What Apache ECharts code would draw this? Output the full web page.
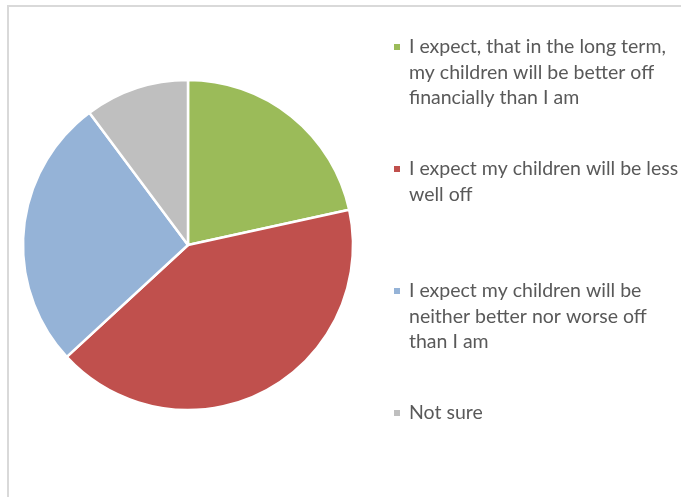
<!DOCTYPE html>
<html>
<head>
<meta charset="utf-8">
<script src="https://cdn.jsdelivr.net/npm/echarts@6/dist/echarts.min.js"></script>
<style>
  html, body { margin: 0; padding: 0; background: #ffffff; }
  #chart { width: 681px; height: 497px; }
</style>
</head>
<body>
<div id="chart"></div>
<script>
// Survey answers, each legend entry split into its display lines
const legendLines = [
  ['I expect, that in the long term,', 'my children will be better off', 'financially than I am'],
  ['I expect my children will be less', 'well off'],
  ['I expect my children will be', 'neither better nor worse off', 'than I am'],
  ['Not sure']
];
const categories = legendLines.map(l => l.join(' '));
const shares = [21.6, 41.6, 26.7, 10.2];
const colors = ['#9bbb59', '#c0504d', '#95b3d7', '#bfbfbf'];

const LINE_H = 25.5;
const SLOT_LINES = 3;
const FONT = 19.5;

// rich styles: one coloured square per entry plus the text rows
const rich = {
  t1: { color: '#595959', fontFamily: 'Lato', fontSize: FONT, lineHeight: LINE_H, padding: [0, 0, 0, 9] },
  t: { color: '#595959', fontFamily: 'Lato', fontSize: FONT, lineHeight: LINE_H, padding: [0, 0, 0, 15] }
};
colors.forEach((c, i) => {
  rich['m' + i] = { width: 6, height: 6, backgroundColor: c, lineHeight: LINE_H };
});

const chart = echarts.init(document.getElementById('chart'), null, { renderer: 'canvas' });
chart.setOption({
  animation: false,
  backgroundColor: '#ffffff',
  color: colors,
  graphic: [{
    type: 'rect',
    silent: true,
    shape: { x: 8, y: 6, width: 720, height: 560 },
    style: { fill: 'none', stroke: '#d9d9d9', lineWidth: 2 }
  }],
  legend: {
    orient: 'vertical',
    left: 388,
    top: 37,
    padding: 0,
    itemWidth: 0,
    itemHeight: 0,
    itemGap: 51,
    selectedMode: false,
    data: categories,
    textStyle: { color: '#595959', fontFamily: 'Lato', fontSize: FONT, rich: rich },
    formatter: function (name) {
      const i = categories.indexOf(name);
      const lines = legendLines[i].slice();
      while (lines.length < SLOT_LINES) lines.push(' ');
      return lines.map((s, k) => k === 0
        ? '{m' + i + '| }{t1|' + s + '}'
        : '{t|' + s + '}').join('\n');
    }
  },
  series: [{
    type: 'pie',
    center: [188, 245],
    radius: 165,
    startAngle: 90,
    clockwise: true,
    label: { show: false },
    labelLine: { show: false },
    emphasis: { disabled: true },
    itemStyle: { borderColor: '#ffffff', borderWidth: 2.5 },
    data: categories.map((name, i) => ({ name: name, value: shares[i] }))
  }]
});
</script>
</body>
</html>
